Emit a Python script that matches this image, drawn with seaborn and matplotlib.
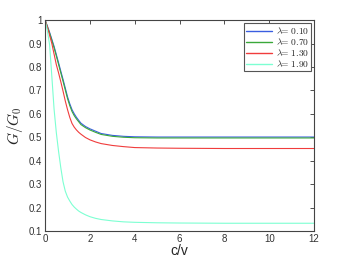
import pandas as pd
import matplotlib
matplotlib.use("Agg")
import matplotlib.pyplot as plt
import seaborn as sns

# values
c = [0, 0.1, 0.2, 0.3, 0.4, 0.5, 0.6, 0.7, 0.8, 0.9, 1.0, 1.1, 1.2, 1.3, 1.4, 1.5,
     1.6, 1.8, 2.0, 2.25, 2.5, 3.0, 3.5, 4, 5, 6, 8, 10, 12]

g_010 = [1.0, 0.975, 0.948, 0.918, 0.888, 0.853, 0.818, 0.782, 0.747, 0.71, 0.673,
         0.643, 0.618, 0.6, 0.585, 0.572, 0.56, 0.546, 0.536, 0.526, 0.516, 0.508,
         0.504, 0.502, 0.501, 0.501, 0.501, 0.501, 0.501]
g_070 = [1.0, 0.972, 0.944, 0.913, 0.882, 0.847, 0.811, 0.775, 0.739, 0.702, 0.665,
         0.635, 0.61, 0.592, 0.578, 0.566, 0.554, 0.541, 0.531, 0.521, 0.512, 0.504,
         0.5, 0.498, 0.497, 0.497, 0.497, 0.497, 0.497]
g_130 = [1.0, 0.97, 0.935, 0.9, 0.855, 0.81, 0.775, 0.737, 0.697, 0.655, 0.618,
         0.585, 0.559, 0.543, 0.531, 0.521, 0.513, 0.499, 0.489, 0.48, 0.473, 0.465,
         0.46, 0.456, 0.454, 0.453, 0.452, 0.452, 0.452]
g_190 = [1.0, 0.955, 0.895, 0.76, 0.62, 0.52, 0.44, 0.37, 0.31, 0.27, 0.245,
         0.228, 0.213, 0.202, 0.193, 0.185, 0.179, 0.169, 0.161, 0.154, 0.149, 0.143,
         0.139, 0.137, 0.135, 0.134, 0.133, 0.133, 0.133]

labels = [r'$\lambda\!\!=\,0.10$', r'$\lambda\!\!=\,0.70$',
          r'$\lambda\!\!=\,1.30$', r'$\lambda\!\!=\,1.90$']
colors = ['#3a5ee0', '#3aa83a', '#f03c3c', '#7dffd2']

df = pd.concat([
    pd.DataFrame({'c': c, 'g': g, 'lam': lab})
    for g, lab in zip([g_010, g_070, g_130, g_190], labels)
])

sns.set_style('white')
plt.rcParams['font.family'] = ['Liberation Sans', 'DejaVu Sans']
plt.rcParams['mathtext.fontset'] = 'cm'

fig = plt.figure(figsize=(3.47, 2.61), dpi=100)
ax = fig.add_axes([0.130, 0.115, 0.775, 0.808])

sns.lineplot(data=df, x='c', y='g', hue='lam', palette=colors, ax=ax,
             linewidth=0.8, legend=True)

ax.set_xlim(0, 12)
ax.set_ylim(0.1, 1)
ax.set_xticks([0, 2, 4, 6, 8, 10, 12])
ax.set_yticks([0.1, 0.2, 0.3, 0.4, 0.5, 0.6, 0.7, 0.8, 0.9, 1])
ax.set_yticklabels(['0.1', '0.2', '0.3', '0.4', '0.5', '0.6', '0.7', '0.8', '0.9', '1'])
ax.tick_params(direction='in', length=3, width=0.6, labelsize=7, colors='#333333',
               top=True, right=True, pad=2)
for s in ax.spines.values():
    s.set_color('#444444')
    s.set_linewidth(0.8)

ax.set_xlabel('c/v', fontsize=10, labelpad=0)
ax.set_ylabel(r'$G/G_0$', fontsize=11, labelpad=3)

leg = ax.legend(loc='upper right', fontsize=6.8, frameon=True, fancybox=False,
                edgecolor='#555555', framealpha=1, labelspacing=0.0,
                handlelength=2.8, handletextpad=0.4, borderpad=0.2,
                borderaxespad=0.3)
leg.get_frame().set_linewidth(0.8)
for line in leg.get_lines():
    line.set_linewidth(1.0)

fig.savefig('out.png', dpi=100)
